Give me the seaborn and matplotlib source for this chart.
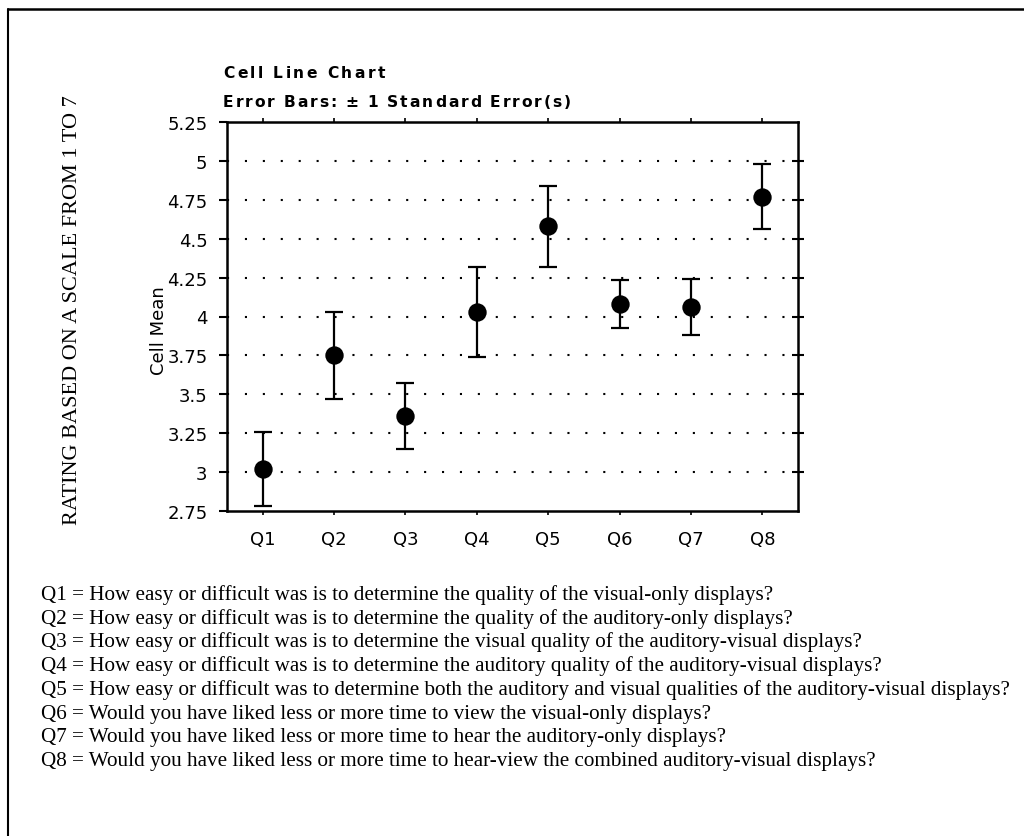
import matplotlib
matplotlib.use("Agg")
import matplotlib.pyplot as plt
import seaborn as sns
import pandas as pd
from matplotlib.lines import Line2D

# datos
preguntas = ["Q1", "Q2", "Q3", "Q4", "Q5", "Q6", "Q7", "Q8"]
medias = [3.02, 3.75, 3.36, 4.03, 4.58, 4.08, 4.06, 4.77]
errores = [0.235, 0.28, 0.21, 0.29, 0.26, 0.155, 0.18, 0.21]
ticks_y = [2.75, 3, 3.25, 3.5, 3.75, 4, 4.25, 4.5, 4.75, 5, 5.25]

notas = [
    "Q1 = How easy or difficult was is to determine the quality of the visual-only displays?",
    "Q2 = How easy or difficult was is to determine the quality of the auditory-only displays?",
    "Q3 = How easy or difficult was is to determine the visual quality of the auditory-visual displays?",
    "Q4 = How easy or difficult was is to determine the auditory quality of the auditory-visual displays?",
    "Q5 = How easy or difficult was to determine both the auditory and visual qualities of the auditory-visual displays?",
    "Q6 = Would you have liked less or more time to view the visual-only displays?",
    "Q7 = Would you have liked less or more time to hear the auditory-only displays?",
    "Q8 = Would you have liked less or more time to hear-view the combined auditory-visual displays?",
]

df = pd.DataFrame({"pregunta": preguntas, "media": medias, "se": errores})

sns.set_style("ticks")
plt.rcParams["font.family"] = ["DejaVu Sans"]
plt.rcParams["text.color"] = "black"
plt.rcParams["axes.labelcolor"] = "black"
plt.rcParams["xtick.color"] = "black"
plt.rcParams["ytick.color"] = "black"

W, H = 1024, 837
fig = plt.figure(figsize=(W / 100, H / 100), dpi=100)
ax = fig.add_axes([227 / W, 1 - 512 / H, 571 / W, 389 / H])

# lineas de rejilla punteadas
for v in ticks_y[1:-1]:
    ax.axhline(v, color="black", lw=1.5, linestyle=(0, (1, 7.6)), zorder=1)

ax.errorbar(range(len(df)), df["media"], yerr=df["se"], fmt="none",
            ecolor="black", elinewidth=1.6, capsize=6.5, capthick=1.6, zorder=2)
sns.scatterplot(data=df, x="pregunta", y="media", color="black", s=175,
                edgecolor="black", linewidth=0, ax=ax, zorder=3)

ax.set_xlim(-0.5, 7.5)
ax.set_ylim(2.75, 5.25)
ax.set_yticks(ticks_y)
ax.set_yticklabels([f"{t:g}" for t in ticks_y])
ax.set_xlabel("")
ax.set_ylabel("Cell Mean", fontsize=13)
ax.yaxis.set_label_coords(-0.103, 0.467)

for s in ax.spines.values():
    s.set_linewidth(1.8)
    s.set_color("black")

ax.tick_params(axis="y", which="both", left=True, right=False, direction="out",
               length=6, width=1.5, labelsize=13, pad=8)
ax.tick_params(axis="x", which="both", bottom=True, top=True, direction="out",
               length=3, width=1.2, labelsize=13, pad=11)

# ticks del eje derecho cruzando el borde
ax2 = ax.twinx()
ax2.set_ylim(ax.get_ylim())
ax2.set_yticks(ticks_y[1:-1])
ax2.set_yticklabels([])
ax2.tick_params(axis="y", direction="inout", length=9, width=1.5)
for s in ax2.spines.values():
    s.set_visible(False)


def texto_espaciado(x_px, y_px, texto, extra_px, **kw):
    r = fig.canvas.get_renderer()
    x = x_px
    for ch in texto:
        if ch == " ":
            x += 0.33 * kw.get("fontsize", 11) * 100 / 72 + extra_px
            continue
        t = fig.text(x / W, 1 - y_px / H, ch, va="baseline", ha="left", **kw)
        x += t.get_window_extent(r).width + extra_px


texto_espaciado(223, 78, "Cell Line Chart", 2.5, fontsize=11.2, fontweight="bold")
texto_espaciado(223, 107, "Error Bars: \u00b1 1 Standard Error(s)", 1.9,
                fontsize=11.2, fontweight="bold")

fig.text(73 / W, 1 - 310 / H, "RATING BASED ON A SCALE FROM 1 TO 7",
         rotation=90, ha="center", va="center", fontsize=16,
         family=["Liberation Serif", "DejaVu Serif"])

for i, linea in enumerate(notas):
    fig.text(41 / W, 1 - (600 + i * 23.7) / H, linea, ha="left", va="baseline",
             fontsize=15.2, family=["Liberation Serif", "DejaVu Serif"])

# marco exterior
fig.add_artist(Line2D([8 / W, 8 / W], [0, 1 - 10 / H], color="black", lw=1.5,
                      transform=fig.transFigure))
fig.add_artist(Line2D([8 / W, 1], [1 - 10 / H, 1 - 10 / H], color="black", lw=1.8,
                      transform=fig.transFigure))

fig.savefig("out.png", dpi=100)
